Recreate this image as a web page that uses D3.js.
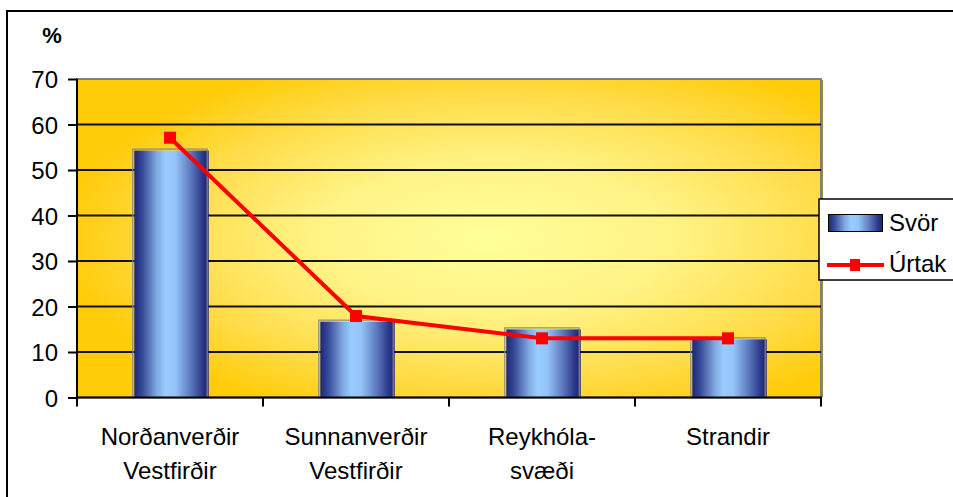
<!DOCTYPE html>
<html><head><meta charset="utf-8">
<script src="https://cdn.jsdelivr.net/npm/d3@7"></script>
<style>body{margin:0;background:#fff}svg{display:block;font-family:"Liberation Sans",Arial,sans-serif}</style>
</head><body><svg id="c" width="953" height="497"></svg>
<script>
const categories = [["Norðanverðir","Vestfirðir"],["Sunnanverðir","Vestfirðir"],["Reykhóla-","svæði"],["Strandir"]];
const svor = [54.6, 17.0, 15.3, 13.1];
const urtak = [57.1, 17.9, 13.0, 13.0];
const yTicks = [0,10,20,30,40,50,60,70];
const seriesNames = ["Svör","Úrtak"];

const svg = d3.select("#c");
const L = 77, R = 821, T = 79, B = 397.5;
const x = d3.scaleBand().domain(d3.range(categories.length)).range([L, R]).paddingInner(0).paddingOuter(0);
const y = d3.scaleLinear().domain([0, 70]).range([B, T]);

const defs = svg.append("defs");
const bg = defs.append("radialGradient").attr("id","bg").attr("cx",0.58).attr("cy",0.5).attr("r",0.6).attr("fx",0.55).attr("fy",0.5);
bg.append("stop").attr("offset",0).attr("stop-color","#ffff99");
bg.append("stop").attr("offset",0.4).attr("stop-color","#fff385");
bg.append("stop").attr("offset",0.75).attr("stop-color","#ffdc48");
bg.append("stop").attr("offset",1).attr("stop-color","#ffcc0a");
const bar = defs.append("linearGradient").attr("id","bar").attr("x1",0).attr("x2",1).attr("y1",0).attr("y2",0);
[[0,"#1c2678"],[0.12,"#3b4f9c"],[0.3,"#7fa8e0"],[0.42,"#99ccff"],[0.55,"#94c4f8"],[0.75,"#5f7cc0"],[0.92,"#2a3789"],[1,"#1a2070"]]
  .forEach(([o,c])=>bar.append("stop").attr("offset",o).attr("stop-color",c));

// outer border
svg.append("rect").attr("x",7).attr("y",11).attr("width",960).attr("height",500).attr("fill","#fff").attr("stroke","#000").attr("stroke-width",2);

// plot area
svg.append("rect").attr("x",L).attr("y",T).attr("width",R-L).attr("height",B-T).attr("fill","url(#bg)").attr("stroke","#808080").attr("stroke-width",2);
svg.append("line").attr("x1",R+1.5).attr("x2",R+1.5).attr("y1",T+1).attr("y2",B).attr("stroke","#9a8a50").attr("stroke-width",1);

// gridlines
svg.append("g").selectAll("line").data(yTicks.filter(d=>d>0 && d<70)).join("line")
  .attr("x1",L).attr("x2",R).attr("y1",d=>y(d)).attr("y2",d=>y(d)).attr("stroke","#111").attr("stroke-width",1.8);

// bars
const bw = x.bandwidth()*0.4;
const bars = svg.append("g");
svor.forEach((v,i)=>{
  const cx = x(i)+x.bandwidth()/2;
  bars.append("rect").attr("x",cx-bw/2+1.5).attr("y",y(v)+1.5).attr("width",bw).attr("height",B-y(v)-1.5).attr("fill","url(#bar)");
  bars.append("rect").attr("x",cx-bw/2).attr("y",y(v)).attr("width",bw).attr("height",B-y(v)).attr("fill","none").attr("stroke","#8a8a80").attr("stroke-width",1.2);
});

// axes
const yAxis = svg.append("g").attr("transform",`translate(${L},0)`).call(d3.axisLeft(y).tickValues(yTicks).tickSize(9).tickPadding(10));
yAxis.select(".domain").remove();
yAxis.selectAll(".tick line").attr("stroke","#000").attr("stroke-width",2);
yAxis.selectAll(".tick text").attr("font-size",24).attr("fill","#000").attr("font-family","Liberation Sans, Arial, sans-serif").attr("dy","0.36em");
svg.append("line").attr("x1",L).attr("x2",L).attr("y1",T).attr("y2",B+1).attr("stroke","#000").attr("stroke-width",2);
svg.append("line").attr("x1",L-1).attr("x2",R+1).attr("y1",B).attr("y2",B).attr("stroke","#000").attr("stroke-width",2);
const bounds = d3.range(categories.length+1).map(i=> i<categories.length ? x(i) : R);
svg.append("g").selectAll("line").data(bounds).join("line")
  .attr("x1",d=>d).attr("x2",d=>d).attr("y1",B).attr("y2",B+9).attr("stroke","#000").attr("stroke-width",2);

// category labels
const cl = svg.append("g").attr("font-size",24).attr("fill","#000").attr("text-anchor","middle");
categories.forEach((lines,i)=>{
  const t = cl.append("text").attr("x",x(i)+x.bandwidth()/2).attr("y",445);
  lines.forEach((s,j)=>t.append("tspan").attr("x",x(i)+x.bandwidth()/2).attr("dy",j===0?0:34).text(s));
});

// line
const line = d3.line().x((d,i)=>x(i)+x.bandwidth()/2).y(d=>y(d));
svg.append("path").datum(urtak).attr("d",line).attr("fill","none").attr("stroke","#ff0000").attr("stroke-width",4);
svg.append("g").selectAll("rect").data(urtak).join("rect")
  .attr("x",(d,i)=>x(i)+x.bandwidth()/2-6).attr("y",d=>y(d)-6).attr("width",12).attr("height",12).attr("fill","#ff0000");

// % label
svg.append("text").attr("x",52).attr("y",43).attr("text-anchor","middle").attr("font-size",22).attr("font-weight","bold").text("%");

// legend
const lg = svg.append("g");
lg.append("rect").attr("x",819).attr("y",199).attr("width",150).attr("height",81).attr("fill","#fff").attr("stroke","#000").attr("stroke-width",1.5);
lg.append("rect").attr("x",828.5).attr("y",214.5).attr("width",54).attr("height",17).attr("fill","url(#bar)").attr("stroke","#000").attr("stroke-width",1);
lg.append("text").attr("x",889).attr("y",231).attr("font-size",24).text(seriesNames[0]);
lg.append("line").attr("x1",827).attr("x2",884).attr("y1",265).attr("y2",265).attr("stroke","#ff0000").attr("stroke-width",4);
lg.append("rect").attr("x",850).attr("y",259).attr("width",10).attr("height",12).attr("fill","#ff0000");
lg.append("text").attr("x",889).attr("y",272).attr("font-size",24).text(seriesNames[1]);
</script></body></html>
